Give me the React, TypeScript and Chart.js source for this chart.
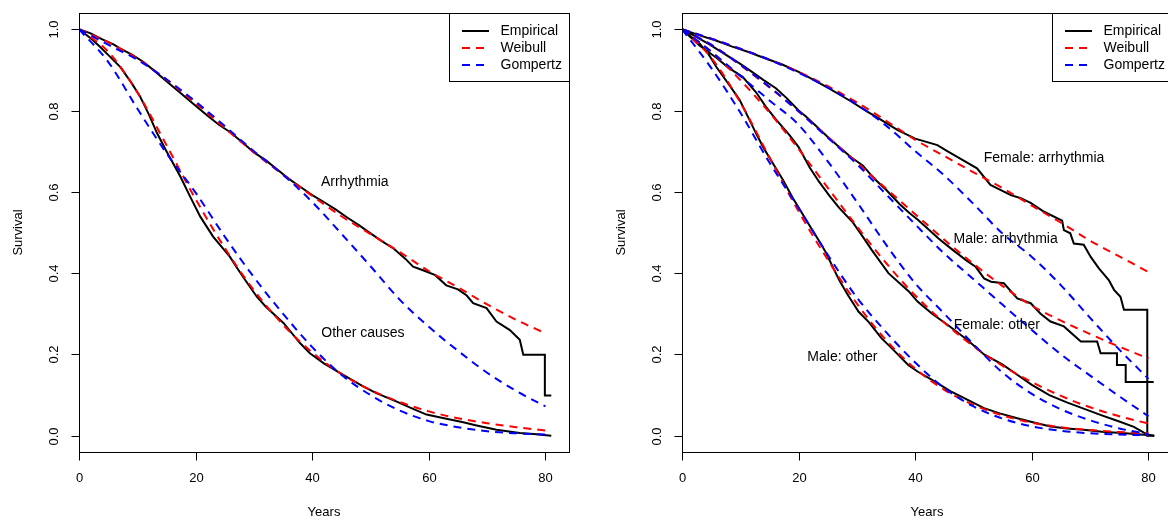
import React, { useEffect, useRef } from "react";
import { Chart, registerables } from "chart.js";

Chart.register(...registerables);

// ---------- shared axis / legend data ----------
const xTickValues = [0, 20, 40, 60, 80];
const yTickValues = [0, 0.2, 0.4, 0.6, 0.8, 1.0];
const yTickLabels = ["0.0", "0.2", "0.4", "0.6", "0.8", "1.0"];
const xAxisTitle = "Years";
const yAxisTitle = "Survival";
const legendLabels = ["Empirical", "Weibull", "Gompertz"];
const fitYears = [0, 5, 10, 15, 20, 25, 30, 35, 40, 45, 50, 55, 60, 65, 70, 75, 80];

// ---------- left panel: Arrhythmia ----------
const arrhythmiaEmpYears = [0, 2, 4, 6, 7, 9, 11, 13, 15, 17, 20, 22, 24, 26, 28, 30, 32, 34, 36, 38, 40, 42, 44, 46, 48, 50, 52, 54, 56, 57.3, 59, 61, 63, 65, 66.5, 67.6, 69.9, 71.6, 73.9, 75.6, 76.2, 79.9, 79.9, 81];
const arrhythmiaEmpSurv = [1, 0.99, 0.975, 0.962, 0.953, 0.938, 0.92, 0.897, 0.872, 0.848, 0.812, 0.788, 0.765, 0.746, 0.722, 0.697, 0.678, 0.655, 0.632, 0.612, 0.592, 0.575, 0.557, 0.537, 0.518, 0.498, 0.478, 0.46, 0.435, 0.416, 0.407, 0.396, 0.37, 0.36, 0.345, 0.326, 0.314, 0.281, 0.26, 0.236, 0.199, 0.199, 0.099, 0.099];
const arrhythmiaWeibull = [1, 0.968, 0.928, 0.876, 0.818, 0.757, 0.697, 0.642, 0.59, 0.54, 0.496, 0.452, 0.405, 0.365, 0.323, 0.285, 0.252];
const arrhythmiaGompertz = [1, 0.962, 0.925, 0.877, 0.822, 0.762, 0.7, 0.642, 0.575, 0.497, 0.417, 0.335, 0.268, 0.209, 0.155, 0.11, 0.072];

// ---------- left panel: Other causes ----------
const otherEmpYears = [0, 2, 3.6, 5, 7.1, 9, 10.5, 12, 13.4, 15, 17.4, 19, 20.8, 23, 25.9, 27, 28.5, 30.5, 32, 35.1, 37.9, 39.6, 42, 44.8, 48.8, 51, 54.5, 57, 59.6, 62, 65.9, 68, 71.6, 75.6, 78, 81];
const otherEmpSurv = [1, 0.978, 0.957, 0.937, 0.907, 0.868, 0.834, 0.79, 0.744, 0.7, 0.637, 0.59, 0.539, 0.49, 0.44, 0.415, 0.383, 0.342, 0.318, 0.277, 0.228, 0.203, 0.178, 0.154, 0.121, 0.105, 0.084, 0.068, 0.052, 0.045, 0.033, 0.026, 0.015, 0.007, 0.004, 0];
const otherWeibull = [1, 0.945, 0.845, 0.715, 0.582, 0.462, 0.358, 0.273, 0.205, 0.152, 0.113, 0.083, 0.06, 0.043, 0.031, 0.021, 0.013];
const otherGompertz = [1, 0.92, 0.805, 0.695, 0.598, 0.49, 0.39, 0.3, 0.218, 0.15, 0.1, 0.062, 0.036, 0.021, 0.011, 0.006, 0.003];

// ---------- right panel: Female arrhythmia ----------
const femArrEmpYears = [0, 3, 5.7, 8.5, 11.4, 14, 17.1, 20, 22.9, 25.5, 28.6, 31.5, 34.3, 37, 40, 43.8, 45.5, 47.2, 50.6, 52.9, 56.4, 58, 59.8, 62.1, 65.2, 65.5, 66.6, 67.2, 68.9, 70.1, 71.5, 73.2, 74.1, 75.2, 75.8, 79.8, 79.8, 81];
const femArrEmpSurv = [1, 0.985, 0.973, 0.958, 0.944, 0.93, 0.914, 0.895, 0.873, 0.852, 0.826, 0.8, 0.776, 0.752, 0.731, 0.715, 0.7, 0.686, 0.658, 0.617, 0.592, 0.585, 0.573, 0.551, 0.529, 0.506, 0.498, 0.473, 0.47, 0.44, 0.412, 0.383, 0.359, 0.342, 0.31, 0.31, 0, 0];
const femArrWeibull = [1, 0.977, 0.952, 0.925, 0.895, 0.86, 0.82, 0.775, 0.728, 0.688, 0.648, 0.609, 0.566, 0.524, 0.48, 0.441, 0.403];
const femArrGompertz = [1, 0.977, 0.952, 0.925, 0.893, 0.857, 0.815, 0.763, 0.7, 0.64, 0.57, 0.497, 0.44, 0.37, 0.29, 0.212, 0.14];

// ---------- right panel: Male arrhythmia ----------
const maleArrEmpYears = [0, 2, 4.7, 7, 10, 12, 14, 16.1, 18, 20, 21.3, 23, 25, 27, 29, 31, 33, 35, 37.3, 39, 40.4, 42.4, 44, 46.1, 48.7, 50.4, 51.8, 53, 55.2, 57.5, 59.8, 61.5, 63.2, 65.5, 68.4, 71.2, 71.8, 74.6, 74.6, 76.1, 76.1, 80.9];
const maleArrEmpSurv = [1, 0.985, 0.963, 0.942, 0.915, 0.895, 0.875, 0.855, 0.83, 0.8, 0.785, 0.762, 0.735, 0.71, 0.685, 0.665, 0.632, 0.605, 0.57, 0.548, 0.532, 0.506, 0.485, 0.461, 0.432, 0.415, 0.387, 0.379, 0.375, 0.338, 0.326, 0.3, 0.281, 0.269, 0.232, 0.232, 0.203, 0.203, 0.174, 0.174, 0.132, 0.132];
const maleArrWeibull = [1, 0.962, 0.912, 0.857, 0.798, 0.735, 0.672, 0.608, 0.545, 0.482, 0.423, 0.368, 0.32, 0.283, 0.25, 0.219, 0.19];
const maleArrGompertz = [1, 0.962, 0.913, 0.858, 0.798, 0.733, 0.668, 0.594, 0.52, 0.448, 0.385, 0.322, 0.26, 0.2, 0.148, 0.097, 0.048];

// ---------- right panel: Female other ----------
const femOtherEmpYears = [0, 3, 5.9, 8, 10.4, 12.7, 14.4, 16, 18.4, 20, 21.9, 23.5, 25.3, 27, 29.3, 31, 32.5, 35.4, 38.9, 40.4, 42.9, 46, 49, 51.8, 55, 57.5, 60, 63, 66, 69, 72, 75, 77.5, 79.8, 81];
const femOtherEmpSurv = [1, 0.96, 0.93, 0.905, 0.883, 0.845, 0.809, 0.78, 0.74, 0.71, 0.66, 0.625, 0.59, 0.56, 0.525, 0.49, 0.458, 0.4, 0.355, 0.33, 0.3, 0.268, 0.235, 0.2, 0.175, 0.15, 0.125, 0.1, 0.082, 0.066, 0.05, 0.035, 0.022, 0.003, 0];
const femOtherWeibull = [1, 0.945, 0.875, 0.795, 0.705, 0.61, 0.515, 0.425, 0.345, 0.278, 0.22, 0.172, 0.132, 0.098, 0.07, 0.048, 0.03];
const femOtherGompertz = [1, 0.945, 0.885, 0.825, 0.765, 0.675, 0.575, 0.47, 0.375, 0.3, 0.225, 0.155, 0.103, 0.065, 0.038, 0.018, 0.004];

// ---------- right panel: Male other ----------
const maleOtherEmpYears = [0, 1.5, 3, 4.5, 5.9, 8, 9.9, 11.3, 12.7, 14, 15.6, 17.3, 19, 20.7, 22.4, 23.6, 24.7, 26.2, 27, 28.5, 30.3, 32, 34.2, 36, 38.8, 40.4, 42.8, 46.1, 49, 51.8, 54.5, 57.5, 60, 63.2, 66, 68.9, 72, 76, 80.3];
const maleOtherEmpSurv = [1, 0.982, 0.965, 0.94, 0.907, 0.865, 0.826, 0.785, 0.744, 0.708, 0.67, 0.63, 0.585, 0.545, 0.505, 0.477, 0.45, 0.405, 0.382, 0.345, 0.305, 0.28, 0.24, 0.215, 0.174, 0.158, 0.138, 0.109, 0.088, 0.068, 0.055, 0.043, 0.034, 0.023, 0.018, 0.015, 0.01, 0.006, 0.001];
const maleOtherWeibull = [1, 0.93, 0.82, 0.685, 0.552, 0.433, 0.325, 0.235, 0.165, 0.113, 0.076, 0.05, 0.032, 0.021, 0.014, 0.009, 0.006];
const maleOtherGompertz = [1, 0.905, 0.795, 0.672, 0.56, 0.445, 0.34, 0.255, 0.18, 0.117, 0.072, 0.042, 0.023, 0.012, 0.006, 0.003, 0.001];

// ---------- in-plot labels ----------
const leftLabelText = ["Arrhythmia", "Other causes"];
const leftLabelX = [47.3, 48.7];
const leftLabelY = [0.624, 0.252];
const rightLabelText = ["Female: arrhythmia", "Male: arrhythmia", "Female: other", "Male: other"];
const rightLabelX = [62.1, 55.5, 54.0, 27.5];
const rightLabelY = [0.682, 0.483, 0.273, 0.193];

// ---------- styling ----------
const FONT = '"Liberation Sans", Arial, Helvetica, sans-serif';
const EMP_COLOR = "#000000";
const WEIBULL_COLOR = "#FF0000";
const GOMPERTZ_COLOR = "#0000FF";
const DASH = [8, 6];
const LEGEND_COLORS = [EMP_COLOR, WEIBULL_COLOR, GOMPERTZ_COLOR];

type Group = { empX: number[]; empY: number[]; weibull: number[]; gompertz: number[] };

const leftGroups: Group[] = [
  { empX: arrhythmiaEmpYears, empY: arrhythmiaEmpSurv, weibull: arrhythmiaWeibull, gompertz: arrhythmiaGompertz },
  { empX: otherEmpYears, empY: otherEmpSurv, weibull: otherWeibull, gompertz: otherGompertz },
];
const rightGroups: Group[] = [
  { empX: femArrEmpYears, empY: femArrEmpSurv, weibull: femArrWeibull, gompertz: femArrGompertz },
  { empX: maleArrEmpYears, empY: maleArrEmpSurv, weibull: maleArrWeibull, gompertz: maleArrGompertz },
  { empX: femOtherEmpYears, empY: femOtherEmpSurv, weibull: femOtherWeibull, gompertz: femOtherGompertz },
  { empX: maleOtherEmpYears, empY: maleOtherEmpSurv, weibull: maleOtherWeibull, gompertz: maleOtherGompertz },
];

const pts = (xs: number[], ys: number[]) => xs.map((x, i) => ({ x, y: ys[i] }));

function buildDatasets(groups: Group[]) {
  const ds: any[] = [];
  // Chart.js draws the first dataset on top: gompertz, then weibull, then empirical at bottom
  groups.forEach((g) =>
    ds.push({
      data: pts(fitYears, g.gompertz),
      borderColor: GOMPERTZ_COLOR,
      borderWidth: 2,
      borderDash: DASH,
      cubicInterpolationMode: "monotone",
      pointRadius: 0,
      fill: false,
    })
  );
  groups.forEach((g) =>
    ds.push({
      data: pts(fitYears, g.weibull),
      borderColor: WEIBULL_COLOR,
      borderWidth: 2,
      borderDash: DASH,
      cubicInterpolationMode: "monotone",
      pointRadius: 0,
      fill: false,
    })
  );
  groups.forEach((g) =>
    ds.push({
      data: pts(g.empX, g.empY),
      borderColor: EMP_COLOR,
      borderWidth: 2,
      tension: 0,
      pointRadius: 0,
      fill: false,
    })
  );
  return ds;
}

function rStylePlugin(labels: string[], lx: number[], ly: number[]) {
  return {
    id: "rStyle",
    afterDraw(chart: any) {
      const ctx: CanvasRenderingContext2D = chart.ctx;
      const a = chart.chartArea;
      const xs = chart.scales.x;
      const ys = chart.scales.y;
      ctx.save();
      ctx.setLineDash([]);
      ctx.strokeStyle = "#000";
      ctx.fillStyle = "#000";
      ctx.lineWidth = 1;
      const L = Math.round(a.left) + 0.5;
      const R = Math.round(a.right) + 0.5;
      const T = Math.round(a.top) + 0.5;
      const B = Math.round(a.bottom) + 0.5;
      ctx.strokeRect(L, T, R - L, B - T);

      // x ticks
      ctx.font = `13px ${FONT}`;
      ctx.textAlign = "center";
      ctx.textBaseline = "middle";
      xTickValues.forEach((v) => {
        const px = Math.round(xs.getPixelForValue(v)) + 0.5;
        ctx.beginPath();
        ctx.moveTo(px, B);
        ctx.lineTo(px, B + 8);
        ctx.stroke();
        ctx.fillText(String(v), px, a.bottom + 26.5);
      });
      // y ticks
      yTickValues.forEach((v, i) => {
        const py = Math.round(ys.getPixelForValue(v)) + 0.5;
        ctx.beginPath();
        ctx.moveTo(L, py);
        ctx.lineTo(L - 8, py);
        ctx.stroke();
        ctx.save();
        ctx.translate(a.left - 24.5, py);
        ctx.rotate(-Math.PI / 2);
        ctx.fillText(yTickLabels[i], 0, 0);
        ctx.restore();
      });
      // axis titles
      ctx.fillText(xAxisTitle, (a.left + a.right) / 2, a.bottom + 60);
      ctx.save();
      ctx.translate(a.left - 61, (a.top + a.bottom) / 2);
      ctx.rotate(-Math.PI / 2);
      ctx.fillText(yAxisTitle, 0, 0);
      ctx.restore();

      // in-plot labels
      ctx.font = `14px ${FONT}`;
      labels.forEach((t, i) => {
        ctx.fillText(t, xs.getPixelForValue(lx[i]), ys.getPixelForValue(ly[i]));
      });

      // legend (top-right, R style)
      const bw = 120;
      const bh = 68;
      const bx = R - bw;
      const by = T;
      ctx.fillStyle = "#fff";
      ctx.fillRect(bx, by, bw, bh);
      ctx.strokeStyle = "#000";
      ctx.strokeRect(bx, by, bw, bh);
      ctx.textAlign = "left";
      legendLabels.forEach((t, i) => {
        const ry = by + 17.5 + i * 17;
        ctx.beginPath();
        ctx.lineWidth = 2;
        ctx.strokeStyle = LEGEND_COLORS[i];
        ctx.setLineDash(i === 0 ? [] : DASH);
        ctx.moveTo(bx + 12.5, ry);
        ctx.lineTo(bx + 39.5, ry);
        ctx.stroke();
        ctx.setLineDash([]);
        ctx.fillStyle = "#000";
        ctx.fillText(t, bx + 51, ry);
      });
      ctx.restore();
    },
  };
}

type PanelProps = {
  left: number;
  width: number;
  padLeft: number;
  padRight: number;
  groups: Group[];
  labels: string[];
  lx: number[];
  ly: number[];
};

function Panel({ left, width, padLeft, padRight, groups, labels, lx, ly }: PanelProps) {
  const ref = useRef<HTMLCanvasElement | null>(null);
  useEffect(() => {
    if (!ref.current) return;
    const chart = new Chart(ref.current, {
      type: "line",
      data: { datasets: buildDatasets(groups) },
      options: {
        animation: false,
        responsive: false,
        devicePixelRatio: 1,
        layout: { padding: { left: padLeft, right: padRight, top: 13, bottom: 70 } },
        plugins: { legend: { display: false }, tooltip: { enabled: false } },
        elements: { point: { radius: 0 } },
        scales: {
          x: { type: "linear", min: 0, max: 84.04, display: false },
          y: { type: "linear", min: -0.04, max: 1.04, display: false },
        },
      } as any,
      plugins: [rStylePlugin(labels, lx, ly)],
    } as any);
    return () => chart.destroy();
  }, []);
  return (
    <canvas
      ref={ref}
      width={width}
      height={522}
      style={{ position: "absolute", left, top: 0, width, height: 522, display: "block" }}
    />
  );
}

export default function App() {
  return (
    <div
      style={{
        position: "fixed",
        left: 0,
        top: 0,
        width: 1168,
        height: 522,
        overflow: "hidden",
        background: "#fff",
      }}
    >
      <Panel left={0} width={584} padLeft={79} padRight={15} groups={leftGroups} labels={leftLabelText} lx={leftLabelX} ly={leftLabelY} />
      <Panel left={584} width={604} padLeft={98} padRight={16} groups={rightGroups} labels={rightLabelText} lx={rightLabelX} ly={rightLabelY} />
    </div>
  );
}
